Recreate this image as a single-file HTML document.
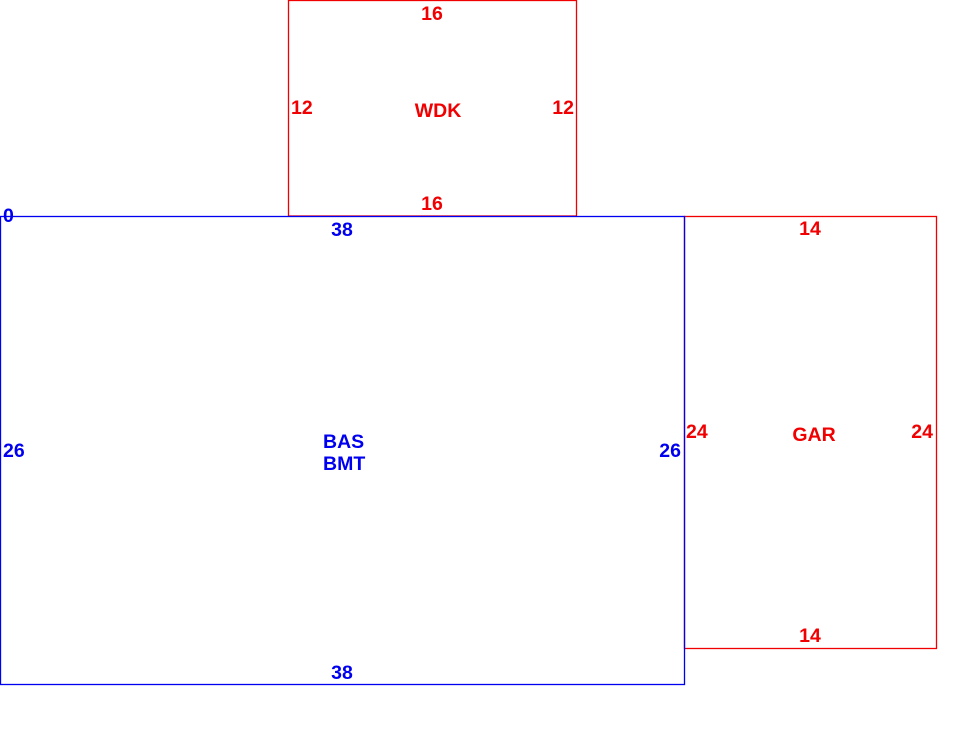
<!DOCTYPE html>
<html><head><meta charset="utf-8"><style>
html,body{margin:0;padding:0;background:#fff;width:980px;height:742px;overflow:hidden}
svg{display:block}
text{font-family:"Liberation Sans",Arial,sans-serif;font-weight:bold;font-size:19.5px}
</style></head><body>
<svg width="980" height="742" viewBox="0 0 980 742" xmlns="http://www.w3.org/2000/svg">
<g fill="none" stroke-width="1.3">
<rect x="288.5" y="0.5" width="288" height="215.5" stroke="#f00000"/>
<rect x="684.5" y="216.5" width="252" height="432" stroke="#f00000"/>
<rect x="0.5" y="216.5" width="684" height="468" stroke="#0000f0"/>
</g>
<g fill="#f00000">
<text x="432" y="20" text-anchor="middle">16</text>
<text x="432" y="210" text-anchor="middle">16</text>
<text x="291" y="114">12</text>
<text x="574" y="114" text-anchor="end">12</text>
<text x="438" y="117" text-anchor="middle">WDK</text>
<text x="810" y="235" text-anchor="middle">14</text>
<text x="810" y="642" text-anchor="middle">14</text>
<text x="686" y="438">24</text>
<text x="933" y="438" text-anchor="end">24</text>
<text x="814" y="441" text-anchor="middle">GAR</text>
</g>
<g fill="#0000f0">
<text x="3" y="222">0</text>
<text x="342" y="236" text-anchor="middle">38</text>
<text x="342" y="679" text-anchor="middle">38</text>
<text x="3" y="457">26</text>
<text x="681" y="457" text-anchor="end">26</text>
<text x="323" y="448">BAS</text>
<text x="323" y="470">BMT</text>
</g>
</svg>
</body></html>
